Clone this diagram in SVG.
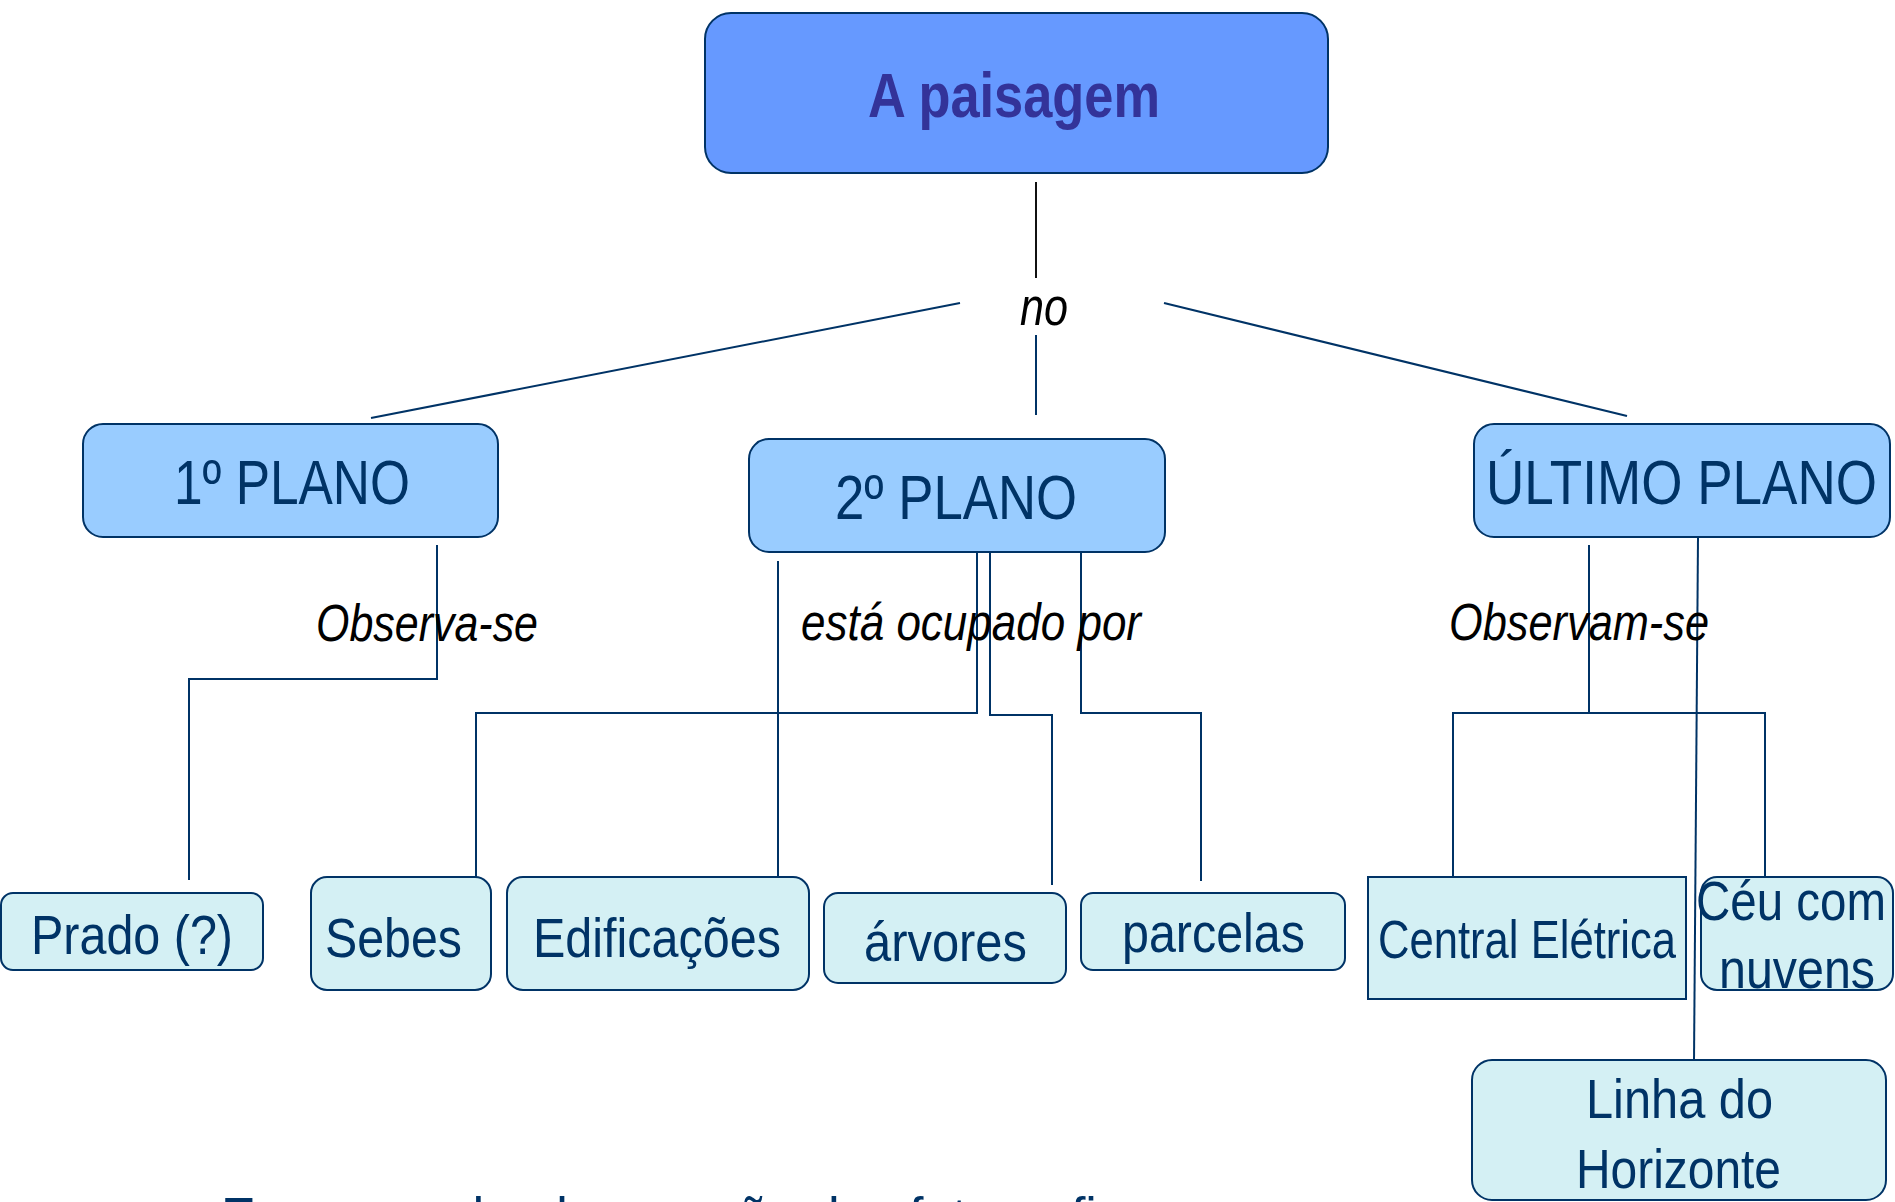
<svg xmlns="http://www.w3.org/2000/svg" width="1895" height="1202" viewBox="0 0 1895 1202">
<style>
.top{fill:#6699FF;stroke:#003366;stroke-width:2}
.mid{fill:#99CCFF;stroke:#003366;stroke-width:2}
.low{fill:#D4F0F4;stroke:#003366;stroke-width:2}
.t{font-family:"Liberation Sans",Arial,sans-serif;fill:#003366}
.tb{font-family:"Liberation Sans",Arial,sans-serif;font-weight:bold;fill:#333399}
.lab{font-family:"Liberation Sans",Arial,sans-serif;font-style:italic;fill:#000}
.c{fill:none;stroke:#003366;stroke-width:2}
</style>
<rect width="1895" height="1202" fill="#fff"/>
<g id="connectors">
<path d="M1036 182V278" fill="none" stroke="#111" stroke-width="2"/>
<path class="c" d="M1036 335V415"/>
<path class="c" d="M960 303L371 418"/>
<path class="c" d="M1164 303L1627 416"/>
<path class="c" d="M437 545V679H189V880"/>
<path class="c" d="M977 545V713H476V881"/>
<path class="c" d="M778 561V882"/>
<path class="c" d="M990 545V715H1052V885"/>
<path class="c" d="M1081 545V713H1201V881"/>
<path class="c" d="M1589 545V713"/>
<path class="c" d="M1453 881V713H1765V881"/>
<path class="c" d="M1698 537L1694 1061"/>
</g>
<g id="labels">
<text class="lab" x="1020" y="325" font-size="54" textLength="48" lengthAdjust="spacingAndGlyphs">no</text>
<text class="lab" x="316" y="641" font-size="52" textLength="222" lengthAdjust="spacingAndGlyphs">Observa-se</text>
<text class="lab" x="801" y="640" font-size="52" textLength="340" lengthAdjust="spacingAndGlyphs">está ocupado por</text>
<text class="lab" x="1449" y="640" font-size="52" textLength="260" lengthAdjust="spacingAndGlyphs">Observam-se</text>
</g>
<g id="n-paisagem">
<rect class="top" x="705" y="13" width="623" height="160" rx="26"/>
<text class="tb" x="868" y="117" font-size="63" textLength="292" lengthAdjust="spacingAndGlyphs">A paisagem</text>
</g>
<g id="n-plano1">
<rect class="mid" x="83" y="424" width="415" height="113" rx="20"/>
<text class="t" x="174" y="504" font-size="63" textLength="236" lengthAdjust="spacingAndGlyphs">1º PLANO</text>
</g>
<g id="n-plano2">
<rect class="mid" x="749" y="439" width="416" height="113" rx="20"/>
<text class="t" x="835" y="519" font-size="63" textLength="242" lengthAdjust="spacingAndGlyphs">2º PLANO</text>
</g>
<g id="n-ultimo">
<rect class="mid" x="1474" y="424" width="416" height="113" rx="20"/>
<text class="t" x="1486" y="504" font-size="63" textLength="391" lengthAdjust="spacingAndGlyphs">ÚLTIMO PLANO</text>
</g>
<g id="n-prado">
<rect class="low" x="1" y="893" width="262" height="77" rx="12"/>
<text class="t" x="31" y="954" font-size="56" textLength="202" lengthAdjust="spacingAndGlyphs">Prado (?)</text>
</g>
<g id="n-sebes">
<rect class="low" x="311" y="877" width="180" height="113" rx="16"/>
<text class="t" x="325" y="957" font-size="56" textLength="137" lengthAdjust="spacingAndGlyphs">Sebes</text>
</g>
<g id="n-edificacoes">
<rect class="low" x="507" y="877" width="302" height="113" rx="16"/>
<text class="t" x="533" y="957" font-size="56" textLength="248" lengthAdjust="spacingAndGlyphs">Edificações</text>
</g>
<g id="n-arvores">
<rect class="low" x="824" y="893" width="242" height="90" rx="14"/>
<text class="t" x="864" y="961" font-size="56" textLength="163" lengthAdjust="spacingAndGlyphs">árvores</text>
</g>
<g id="n-parcelas">
<rect class="low" x="1081" y="893" width="264" height="77" rx="12"/>
<text class="t" x="1122" y="952" font-size="56" textLength="183" lengthAdjust="spacingAndGlyphs">parcelas</text>
</g>
<g id="n-central">
<rect class="low" x="1368" y="877" width="318" height="122"/>
<text class="t" x="1378" y="958" font-size="53" textLength="298" lengthAdjust="spacingAndGlyphs">Central Elétrica</text>
</g>
<g id="n-ceu">
<rect class="low" x="1701" y="877" width="192" height="113" rx="16"/>
<text class="t" x="1696" y="920" font-size="56" textLength="190" lengthAdjust="spacingAndGlyphs">Céu com</text>
<text class="t" x="1719" y="988" font-size="56" textLength="156" lengthAdjust="spacingAndGlyphs">nuvens</text>
</g>
<g id="n-linha">
<rect class="low" x="1472" y="1060" width="414" height="140" rx="20"/>
<text class="t" x="1586" y="1118" font-size="56" textLength="187" lengthAdjust="spacingAndGlyphs">Linha do</text>
<text class="t" x="1576" y="1188" font-size="56" textLength="205" lengthAdjust="spacingAndGlyphs">Horizonte</text>
</g>
<text class="t" x="221" y="1234" font-size="52">Esquema da observação das fotografias</text>
</svg>
